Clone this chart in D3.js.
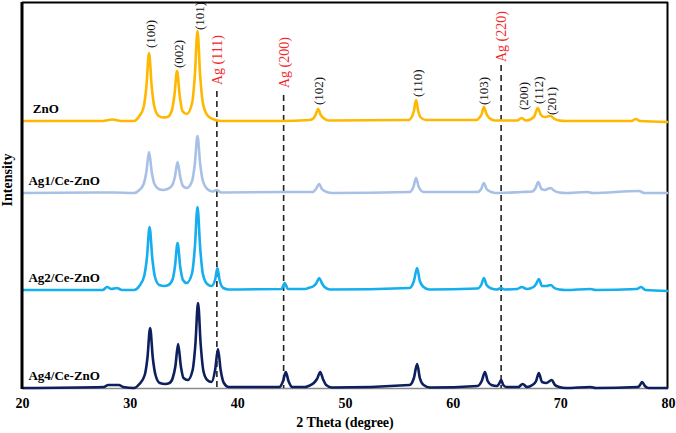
<!DOCTYPE html>
<html>
<head>
<meta charset="utf-8">
<script src="https://cdn.jsdelivr.net/npm/d3@7"></script>
<style>
  body { margin: 0; background: #fff; }
  svg { display: block; font-family: "Liberation Serif", "Times New Roman", serif; }
</style>
</head>
<body>
<svg id="chart" width="676" height="433"></svg>
<script>
// series names, colours and vertical stacking offsets (intensity units)
const seriesNames = ['ZnO', 'Ag1/Ce-ZnO', 'Ag2/Ce-ZnO', 'Ag4/Ce-ZnO'];
const seriesColors = ['#FFB800', '#A9C0E6', '#15AEEE', '#0E1F5E'];
const seriesOffsets = [267, 195, 98, 0];

// [2theta, intensity]
const znoPts = [[20,0],[27.5,0],[28.4,1.5],[29.2,0],[30.4,0],[30.9,5],[31.3,14],[31.55,34],[31.8,68],[32.05,34],[32.3,14],[32.7,5],[33.1,3.5],[33.5,4],[33.9,10],[34.15,25],[34.4,50],[34.65,25],[34.9,10],[35.3,7],[35.8,18],[36.05,45],[36.3,90],[36.55,45],[36.8,18],[37.2,6],[37.7,2],[38.5,0],[44,0],[46.7,1],[47.1,3],[47.3,7],[47.5,12],[47.75,6],[48.0,3],[48.5,0.5],[55.9,1],[56.2,4],[56.4,10],[56.6,21],[56.8,10],[57.0,4],[57.5,1],[62.2,1],[62.5,3.5],[62.7,7],[62.9,14],[63.15,7],[63.4,3],[63.9,0.5],[66.0,0.5],[66.4,3],[66.8,0.5],[67.3,2],[67.6,5],[67.9,13],[68.2,6],[68.5,4],[68.8,4.5],[69.1,5],[69.4,2.5],[69.9,0.5],[70.5,0],[76.6,0],[77,2],[77.4,0],[80,-1]];
const ag1Pts = [[20,0],[28.5,0.5],[30.4,0],[30.9,3],[31.3,9],[31.55,21],[31.8,41],[32.05,21],[32.3,9],[32.7,4],[33.1,3],[33.5,4],[33.9,7],[34.2,16],[34.45,31],[34.7,16],[34.95,7],[35.3,5],[35.8,12],[36.05,29],[36.3,57],[36.55,29],[36.8,12],[37.2,4],[37.7,1.5],[38.1,3],[38.5,0.5],[44.4,1],[47.0,1],[47.3,4],[47.6,9],[47.85,4],[48.3,1],[48.8,0],[56.0,1],[56.35,6],[56.6,15],[56.85,6],[57.3,1],[62.3,1],[62.65,4],[62.9,10],[63.15,4],[63.6,1],[64,0],[66.4,1],[67.4,1.5],[67.7,5],[67.95,11],[68.25,4],[68.6,3],[68.9,4.5],[69.1,5],[69.4,2.5],[69.9,0.5],[70.5,0],[72.5,1],[73,0],[77.3,2],[77.8,0],[80,0]];
const ag2Pts = [[20,0],[27.5,0],[27.9,3],[28.3,1],[28.8,2],[29.3,0],[30.4,0],[30.9,4],[31.35,14],[31.6,32],[31.85,63],[32.1,32],[32.35,13],[32.75,5],[33.2,4],[33.6,5],[34.0,11],[34.2,23],[34.45,47],[34.7,23],[34.95,10],[35.3,7],[35.8,17],[36.05,42],[36.3,83],[36.55,42],[36.8,16],[37.2,6],[37.6,4],[37.95,11],[38.15,22],[38.35,10],[38.7,2],[39.2,0.5],[44.1,1],[44.4,7],[44.7,1],[46.3,1],[46.6,2],[47.1,4],[47.35,7],[47.6,12],[47.85,7],[48.1,3],[48.6,0.5],[56.0,2],[56.4,9],[56.7,22],[56.95,9],[57.3,3],[57.8,0.5],[62.3,1.5],[62.65,5],[62.9,12],[63.15,5],[63.6,1.5],[64.1,0.5],[64.5,2],[64.8,0.5],[66.0,1],[66.4,3],[66.9,1],[67.5,3],[67.75,6],[68.0,11],[68.3,4],[68.7,4],[69.1,5],[69.45,2],[69.9,0.5],[70.5,0],[72.8,1],[73.3,0],[77.1,1],[77.5,3],[77.9,0],[80,-1]];
const ag4Pts = [[20,0],[27.6,1],[28.0,3],[28.6,3],[29.0,3],[29.4,1],[30.4,0],[30.9,4],[31.4,13],[31.65,30],[31.9,60],[32.15,30],[32.4,13],[32.8,5],[33.3,4],[33.7,5],[34.0,10],[34.25,22],[34.5,44],[34.75,22],[35.0,10],[35.4,8],[35.85,18],[36.1,43],[36.35,85],[36.6,43],[36.85,17],[37.2,8],[37.6,6],[37.95,19],[38.2,39],[38.45,18],[38.75,5],[39.2,1],[43.9,1],[44.25,7],[44.5,16],[44.75,7],[45.1,1],[46.3,1],[46.6,2],[47.1,5],[47.4,9],[47.7,16],[47.95,9],[48.25,3],[48.8,0.5],[56.0,3],[56.4,10],[56.7,24],[56.95,10],[57.3,3],[57.9,0.5],[62.3,2],[62.7,7],[63.0,16],[63.25,7],[63.6,3],[64.1,2],[64.3,4],[64.5,8],[64.7,3],[65.0,1],[66.1,1],[66.5,4],[66.9,1],[67.4,3],[67.75,7],[68.0,15],[68.3,6],[68.7,5],[69.2,8],[69.5,3],[69.9,1],[70.5,0],[72.8,1],[73.3,0],[77.2,1],[77.4,3],[77.6,6],[77.85,2],[78.2,0],[80,0]];
const seriesPts = [znoPts, ag1Pts, ag2Pts, ag4Pts];

// ZnO plane labels: text, 2theta, intensity of the label's lower end
const millerLabels = ['(100)', '(002)', '(101)', '(102)', '(110)', '(103)', '(200)', '(112)', '(201)'];
const millerTheta = [31.9, 34.5, 36.45, 47.5, 56.7, 62.9, 66.55, 68.0, 69.2];
const millerAt = [340, 320, 358, 283, 291, 283, 278, 284, 273];

// Ag reflections: dashed guide lines
const agLabels = ['Ag (111)', 'Ag (200)', 'Ag (220)'];
const agTheta = [38.1, 44.3, 64.5];
const agLabelAt = [303, 300, 326];
const agLineTop = [297, 293, 323];

const xTicks = [20, 30, 40, 50, 60, 70, 80];

const svg = d3.select('#chart');
const margin = { top: 2, right: 8, bottom: 45, left: 22 };
const W = 676, H = 433;

const x = d3.scaleLinear().domain([20, 80]).range([margin.left, W - margin.right]);
const y = d3.scaleLinear().domain([0, 386]).range([H - margin.bottom, margin.top]);

// bottom axis (grey line, bold labels, no tick marks)
const xAxis = svg.append('g')
  .attr('transform', `translate(0,${H - margin.bottom})`)
  .call(d3.axisBottom(x).tickValues(xTicks).tickSize(0).tickPadding(10));
xAxis.select('.domain').attr('stroke', '#8a8a8a').attr('stroke-width', 1.5);
xAxis.selectAll('text')
  .style('font-family', '"Liberation Serif", serif')
  .style('font-size', '14px')
  .style('font-weight', 'bold')
  .attr('fill', '#000');

// frame: top and right thin, left thick
svg.append('line').attr('x1', x(20)).attr('x2', x(80)).attr('y1', y(386) + 0.5).attr('y2', y(386) + 0.5)
  .attr('stroke', '#000').attr('stroke-width', 2);
svg.append('line').attr('x1', x(80) - 0.5).attr('x2', x(80) - 0.5).attr('y1', y(386)).attr('y2', y(0))
  .attr('stroke', '#000').attr('stroke-width', 2);

// Ag dashed guide lines
agTheta.forEach((t, i) => {
  svg.append('line')
    .attr('x1', x(t)).attr('x2', x(t))
    .attr('y1', y(agLineTop[i])).attr('y2', y(0))
    .attr('stroke', '#222').attr('stroke-width', 1.6)
    .attr('stroke-dasharray', '6,4');
});

// patterns
const line = d3.line().curve(d3.curveMonotoneX);
seriesPts.forEach((pts, i) => {
  svg.append('path')
    .attr('d', line(pts.map(p => [x(p[0]), y(p[1] + seriesOffsets[i])])))
    .attr('fill', 'none')
    .attr('stroke', seriesColors[i])
    .attr('stroke-width', 2.6)
    .attr('stroke-linejoin', 'round');
});

svg.append('line').attr('x1', x(20)).attr('x2', x(20)).attr('y1', y(386)).attr('y2', y(0) + 1)
  .attr('stroke', '#000').attr('stroke-width', 3);

// series names
seriesNames.forEach((n, i) => {
  svg.append('text')
    .attr('x', x(i === 0 ? 21.0 : 20.6))
    .attr('y', y(seriesOffsets[i] + 8))
    .style('font-size', '13px')
    .style('font-weight', 'bold')
    .text(n);
});

// rotated peak labels
function vlabel(t, v, txt, color, size) {
  svg.append('text')
    .attr('transform', `translate(${x(t)},${y(v)}) rotate(-90)`)
    .attr('dy', '0.35em')
    .attr('fill', color)
    .style('font-size', size)
    .text(txt);
}
millerLabels.forEach((m, i) => vlabel(millerTheta[i], millerAt[i], m, '#111', '13px'));
agLabels.forEach((m, i) => vlabel(agTheta[i], agLabelAt[i], m, '#F2262B', '14px'));

// axis titles
svg.append('text')
  .attr('x', (x(20) + x(80)) / 2).attr('y', 427)
  .attr('text-anchor', 'middle')
  .style('font-size', '14px').style('font-weight', 'bold')
  .text('2 Theta (degree)');
svg.append('text')
  .attr('transform', `translate(12,${y(208)}) rotate(-90)`)
  .attr('text-anchor', 'middle')
  .style('font-size', '14px').style('font-weight', 'bold')
  .text('Intensity');
</script>
</body>
</html>
